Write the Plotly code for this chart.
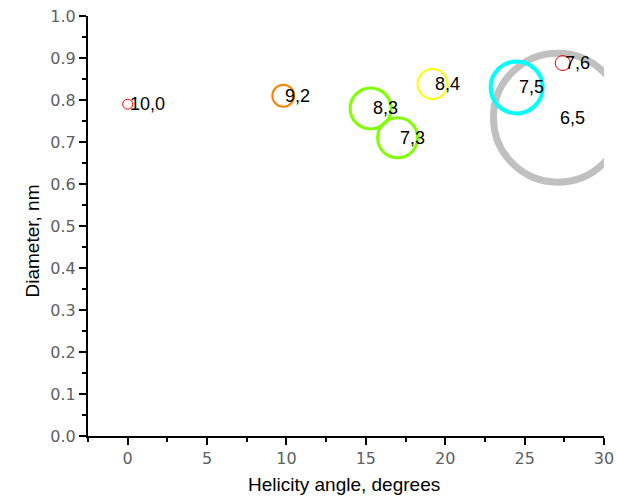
import plotly.graph_objects as go

# Nanotube chiralities: helicity angle vs. diameter, circle size ~ relative abundance
chirality = ["10,0", "9,2", "8,3", "7,3", "8,4", "7,5", "7,6", "6,5"]
helicity_deg = [0.0, 9.8, 15.3, 17.0, 19.2, 24.5, 27.4, 27.1]
diameter_nm = [0.79, 0.81, 0.78, 0.71, 0.838, 0.83, 0.888, 0.758]
abundance = [10, 22, 41, 40, 30, 52, 15, 129]
ring_color = ["#ff0000", "#ff8000", "#80ff00", "#80ff00", "#ffff00", "#00ffff", "#ff0000", "#c0c0c0"]
ring_width = [1, 2, 3, 3, 2, 4, 1, 7]

x_ticks = [0, 5, 10, 15, 20, 25, 30]
y_ticks = [round(0.1 * i, 1) for i in range(11)]

fig = go.Figure()

# Draw the largest ring first so the smaller ones sit on top of it
order = sorted(range(len(chirality)), key=lambda i: -abundance[i])
for i in order:
    fig.add_trace(go.Scatter(
        x=[helicity_deg[i]], y=[diameter_nm[i]],
        mode="markers",
        marker=dict(size=abundance[i], color="rgba(0,0,0,0)",
                    line=dict(color=ring_color[i], width=ring_width[i])),
        cliponaxis=True,
        showlegend=False,
        hoverinfo="skip",
    ))

for name, hx, d in zip(chirality, helicity_deg, diameter_nm):
    fig.add_annotation(x=hx, y=d, text=name, showarrow=False,
                       xanchor="left", yanchor="middle", xshift=0,
                       font=dict(family="Liberation Sans, Arial", size=18, color="#000000"))

tick_font = dict(family="DejaVu Sans, Verdana", size=16, color="#606060")

fig.update_xaxes(
    range=[-2.5, 30], tickvals=x_ticks, ticktext=[str(v) for v in x_ticks],
    showgrid=False, zeroline=False, automargin=False,
    showline=True, linecolor="#000000", linewidth=2,
    ticks="outside", ticklen=7, tickwidth=2, tickcolor="#000000",
    minor=dict(dtick=2.5, tick0=0, ticks="outside", ticklen=4, tickwidth=2, tickcolor="#000000"),
    tickfont=tick_font,
)
fig.update_yaxes(
    range=[0, 1.0], tickvals=y_ticks, ticktext=[f"{v:.1f}" for v in y_ticks],
    showgrid=False, zeroline=False, automargin=False,
    showline=True, linecolor="#000000", linewidth=2,
    ticks="outside", ticklen=7, tickwidth=2, tickcolor="#000000",
    minor=dict(dtick=0.05, tick0=0, ticks="outside", ticklen=4, tickwidth=2, tickcolor="#000000"),
    tickfont=tick_font,
)

title_font = dict(family="Liberation Sans, Arial", size=19, color="#000000")
fig.add_annotation(text="Helicity angle, degrees", xref="paper", yref="paper",
                   x=0.497, y=-0.115, xanchor="center", yanchor="middle",
                   showarrow=False, font=title_font)
fig.add_annotation(text="Diameter, nm", xref="paper", yref="paper",
                   x=-0.107, y=0.465, xanchor="center", yanchor="middle",
                   textangle=-90, showarrow=False, font=title_font)

fig.update_layout(
    width=617, height=497, autosize=False,
    margin=dict(l=88, r=13, t=16, b=61),
    paper_bgcolor="#ffffff", plot_bgcolor="#ffffff",
)

fig.write_html("out.html")
